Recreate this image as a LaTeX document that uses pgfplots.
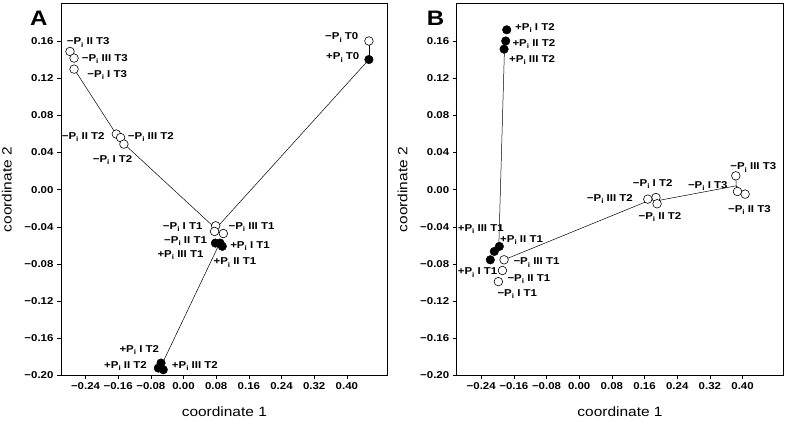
\documentclass[border=0pt]{standalone}
\usepackage{fontspec}
\setmainfont{Liberation Sans}[FakeStretch=1.15]
\usepackage{pgfplots}
\pgfplotsset{compat=1.18}

\newcommand\Pq{P\raisebox{-0.45ex}{\fontsize{7}{8}\selectfont i}}

\tikzset{
  lab/.style={font=\bfseries\fontsize{10}{12}\selectfont, anchor=base west, inner sep=0pt},
}
\pgfplotsset{
  panel/.style={
    scale only axis, width=326.7bp, height=371.7bp,
    xmin=-0.30, xmax=0.50, ymin=-0.20, ymax=0.20,
    xtick={-0.24,-0.16,-0.08,0,0.08,0.16,0.24,0.32,0.40},
    xticklabels={−0.24,−0.16,−0.08,0.00,0.08,0.16,0.24,0.32,0.40},
    ytick={-0.20,-0.16,-0.12,-0.08,-0.04,0,0.04,0.08,0.12,0.16},
    yticklabels={−0.20,−0.16,−0.12,−0.08,−0.04,0.00,0.04,0.08,0.12,0.16},
    tick align=outside, tick pos=left,
    major tick length=4bp,
    tick label style={font=\bfseries\fontsize{10}{12}\selectfont},
    label style={font=\fontsize{13.5}{15}\selectfont, inner sep=0pt},
    xlabel={coordinate 1}, ylabel={coordinate 2},
    xlabel style={at={(axis description cs:0.5,0)}, anchor=base, yshift=-40.5bp},
    ylabel style={at={(axis description cs:-0.150,0.5)}, anchor=south},
    clip=false,
    axis line style={line width=0.7pt},
    every tick/.style={black, line width=0.6pt},
  },
  conn/.style={black, line width=0.5pt, mark=none},
  openc/.style={only marks, mark=*, mark size=4.3bp, mark options={fill=white, draw=black, line width=0.6pt}},
  fillc/.style={only marks, mark=*, mark size=4.3bp, mark options={fill=black, draw=black}},
}

\begin{document}
\begin{tikzpicture}
% ---------------- Panel A ----------------
\begin{axis}[panel, at={(61bp,45.5bp)}, anchor=south west]
\addplot[conn] coordinates {(0.454,0.160) (0.454,0.140)};
\addplot[conn] coordinates {(0.454,0.140) (0.079,-0.042) (-0.155,0.053) (-0.268,0.130)};
\addplot[conn] coordinates {(0.087,-0.059) (-0.055,-0.190)};
\addplot[openc] coordinates {
  (0.454,0.160)
  (-0.278,0.1487) (-0.268,0.1416) (-0.268,0.1297)
  (-0.1645,0.0598) (-0.154,0.056) (-0.146,0.049)
  (0.0788,-0.0389) (0.076,-0.045) (0.0975,-0.0472)
};
\addplot[fillc] coordinates {
  (0.454,0.140)
  (0.078,-0.0575) (0.0894,-0.0575) (0.095,-0.061)
  (-0.055,-0.1866) (-0.0617,-0.192) (-0.0495,-0.1938)
};
\node[lab] at (axis cs:-0.286,0.1559) {−\Pq{} II T3};
\node[lab] at (axis cs:-0.2493,0.1379) {−\Pq{} III T3};
\node[lab] at (axis cs:-0.2356,0.1211) {−\Pq{} I T3};
\node[lab] at (axis cs:0.3465,0.1613) {−\Pq{} T0};
\node[lab] at (axis cs:0.349,0.1397) {+\Pq{} T0};
\node[lab] at (axis cs:-0.2983,0.0544) {−\Pq{} II T2};
\node[lab] at (axis cs:-0.1366,0.0544) {−\Pq{} III T2};
\node[lab] at (axis cs:-0.2224,0.0296) {−\Pq{} I T2};
\node[lab] at (axis cs:-0.0509,-0.0425) {−\Pq{} I T1};
\node[lab] at (axis cs:0.1099,-0.0425) {−\Pq{} III T1};
\node[lab] at (axis cs:-0.0477,-0.0575) {−\Pq{} II T1};
\node[lab] at (axis cs:0.114,-0.0629) {+\Pq{} I T1};
\node[lab] at (axis cs:-0.0641,-0.0726) {+\Pq{} III T1};
\node[lab] at (axis cs:0.0731,-0.0809) {+\Pq{} II T1};
\node[lab] at (axis cs:-0.1572,-0.1752) {+\Pq{} I T2};
\node[lab] at (axis cs:-0.1947,-0.192) {+\Pq{} II T2};
\node[lab] at (axis cs:-0.0288,-0.192) {+\Pq{} III T2};
\node[lab, font=\bfseries\fontsize{21}{24}\selectfont] at (axis cs:-0.376,0.1763) {A};
\end{axis}
% ---------------- Panel B ----------------
\begin{axis}[panel, at={(456.7bp,45.5bp)}, anchor=south west]
\addplot[conn] coordinates {(-0.183,0.152) (-0.197,-0.062)};
\addplot[conn] coordinates {(-0.184,-0.0755) (0.175,-0.011)};
\addplot[conn] coordinates {(0.19,-0.012) (0.3843,0.0041)};
\addplot[conn] coordinates {(0.3835,0.0149) (0.3843,0.0041) (0.3875,-0.002)};
\addplot[conn] coordinates {(0.3843,0.0041) (0.4063,-0.0048)};
\addplot[openc] coordinates {
  (0.3835,0.0149) (0.3875,-0.002) (0.4063,-0.0048)
  (0.188,-0.0084) (0.168,-0.0102) (0.1907,-0.0152)
  (-0.184,-0.0755) (-0.188,-0.087) (-0.198,-0.099)
};
\addplot[fillc] coordinates {
  (-0.1775,0.172) (-0.18,0.160) (-0.184,0.1512)
  (-0.1956,-0.0611) (-0.208,-0.0665) (-0.2177,-0.0755)
};
\node[lab] at (axis cs:-0.1572,0.1713) {+\Pq{} I T2};
\node[lab] at (axis cs:-0.1638,0.154) {+\Pq{} II T2};
\node[lab] at (axis cs:-0.1719,0.1368) {+\Pq{} III T2};
\node[lab] at (axis cs:0.3696,0.0214) {−\Pq{} III T3};
\node[lab] at (axis cs:0.266,0.0017) {−\Pq{} I T3};
\node[lab] at (axis cs:0.1312,0.0034) {−\Pq{} I T2};
\node[lab] at (axis cs:0.0185,-0.0127) {−\Pq{} III T2};
\node[lab] at (axis cs:0.1449,-0.0317) {−\Pq{} II T2};
\node[lab] at (axis cs:0.364,-0.0246) {−\Pq{} II T3};
\node[lab] at (axis cs:-0.2976,-0.045) {+\Pq{} III T1};
\node[lab] at (axis cs:-0.1939,-0.0569) {+\Pq{} II T1};
\node[lab] at (axis cs:-0.1613,-0.0809) {−\Pq{} III T1};
\node[lab] at (axis cs:-0.2976,-0.0917) {+\Pq{} I T1};
\node[lab] at (axis cs:-0.176,-0.0988) {−\Pq{} II T1};
\node[lab] at (axis cs:-0.2005,-0.115) {−\Pq{} I T1};
\node[lab, font=\bfseries\fontsize{21}{24}\selectfont] at (axis cs:-0.3735,0.1763) {B};
\end{axis}
\pgfresetboundingbox
\useasboundingbox (0,0) rectangle (787bp,421bp);
\end{tikzpicture}
\end{document}
